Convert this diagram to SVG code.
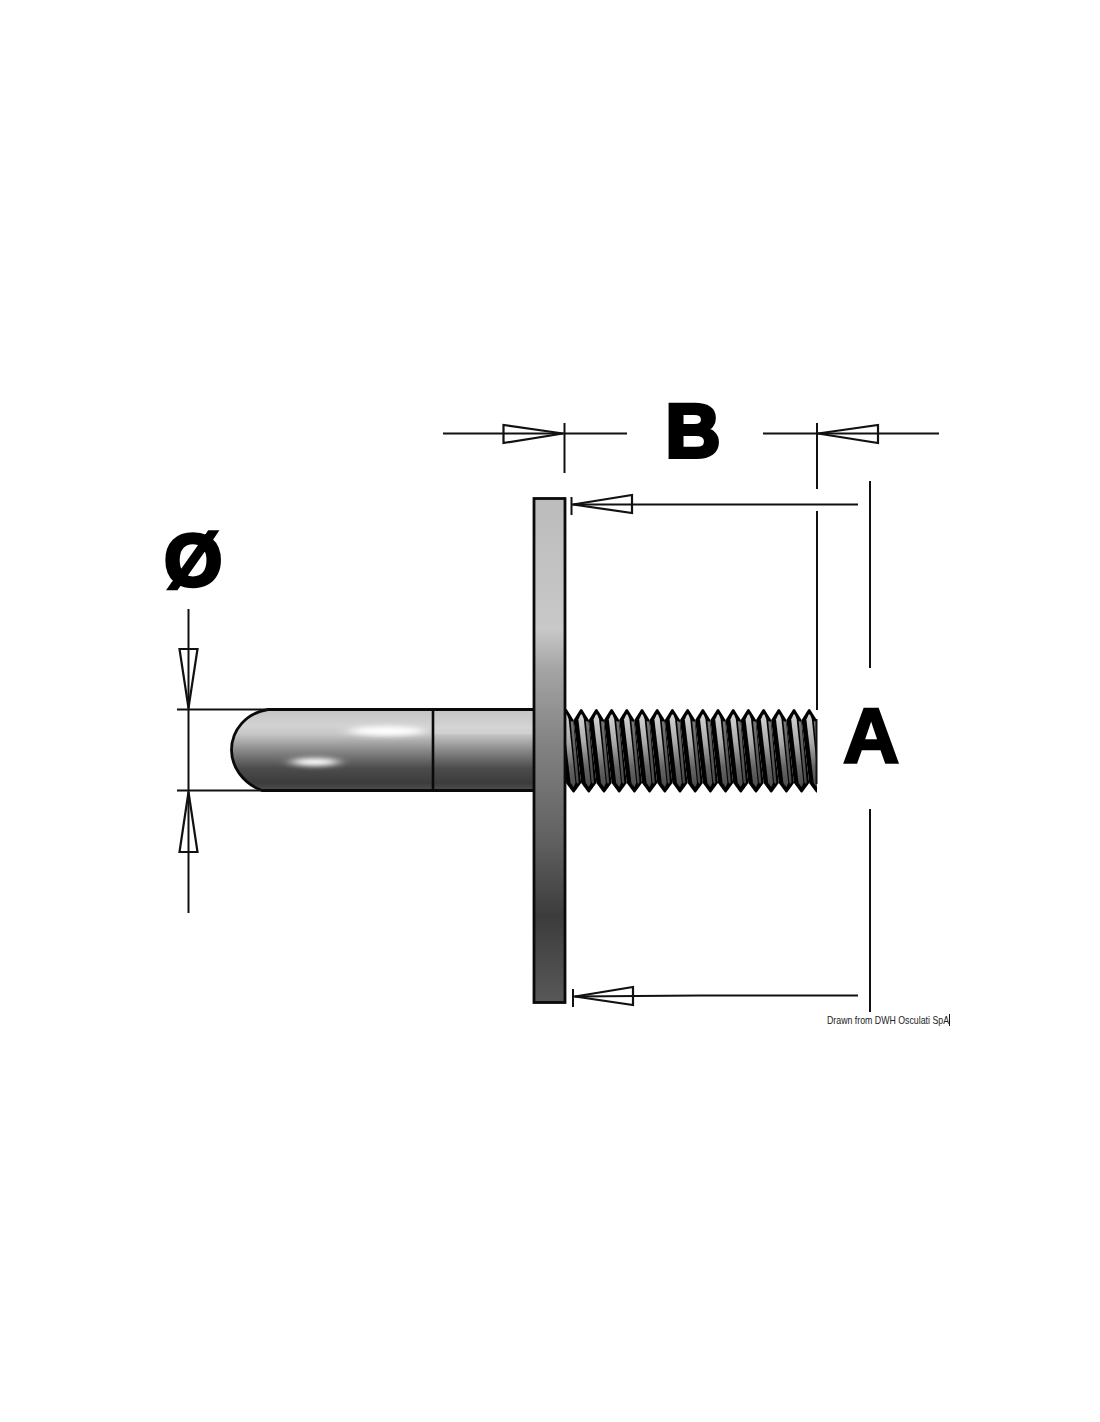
<svg xmlns="http://www.w3.org/2000/svg" xmlns:xlink="http://www.w3.org/1999/xlink" width="1100" height="1422" viewBox="0 0 1100 1422">
<style>
.ln{stroke:#111;stroke-width:2;fill:none}
.ar{stroke:#111;stroke-width:2.200;fill:none;stroke-linejoin:miter}
.big{font-family:"Liberation Sans",Arial,sans-serif;font-weight:700;fill:#000;stroke:#000;stroke-linejoin:miter}
</style>
<defs>
<linearGradient id="pinG" gradientUnits="userSpaceOnUse" x1="0" y1="709" x2="0" y2="791">
<stop offset="0" stop-color="#c4c4c4"/><stop offset=".2" stop-color="#d2d2d2"/><stop offset=".3" stop-color="#c8c8c8"/><stop offset=".5" stop-color="#8a8a8a"/><stop offset=".72" stop-color="#4c4c4c"/><stop offset=".9" stop-color="#3c3c3c"/><stop offset="1" stop-color="#505050"/>
</linearGradient>
<linearGradient id="plateG" gradientUnits="userSpaceOnUse" x1="0" y1="498" x2="0" y2="1002">
<stop offset="0" stop-color="#bcbcbc"/><stop offset=".26" stop-color="#c8c8c8"/><stop offset=".34" stop-color="#a4a4a4"/><stop offset=".5" stop-color="#808080"/><stop offset=".68" stop-color="#606060"/><stop offset=".83" stop-color="#3c3c3c"/><stop offset="1" stop-color="#585858"/>
</linearGradient>
<linearGradient id="thLight" gradientUnits="userSpaceOnUse" x1="0" y1="712" x2="0" y2="790">
<stop offset="0" stop-color="#d8d8d8"/><stop offset=".4" stop-color="#a8a8a8"/><stop offset=".7" stop-color="#666"/><stop offset="1" stop-color="#484848"/>
</linearGradient>
<linearGradient id="thMid" gradientUnits="userSpaceOnUse" x1="0" y1="712" x2="0" y2="790">
<stop offset="0" stop-color="#808080"/><stop offset=".5" stop-color="#5c5c5c"/><stop offset="1" stop-color="#444"/>
</linearGradient>
<filter id="soft" x="-50%" y="-150%" width="200%" height="400%"><feGaussianBlur stdDeviation="7 2.500"/></filter>
<filter id="bl" x="-5%" y="-10%" width="110%" height="120%"><feGaussianBlur stdDeviation=".55"/></filter>
<clipPath id="thClip"><rect x="566" y="700" width="251" height="100"/></clipPath>
<clipPath id="pinClip"><path d="M268 710H534V790H262C242 782 232 766 232 750C232 730 246 713 268 710Z"/></clipPath>
<g id="tooth">
<path d="M-7.600 720L-1 709.500Q0 708.500 1 709.500L7.600 720L15.200 783L8.600 792Q7.600 793 6.600 792L0 783Z" fill="#060606"/>
<path d="M-2.800 719.500L-0.500 714.500H0.800L2.600 719L9.400 783L7.600 787L4.600 783Z" fill="url(#thLight)"/>
<path d="M4.600 721L7.400 722L12.700 782L11.800 784L10.400 782Z" fill="url(#thMid)"/>
</g>
</defs>
<rect width="1100" height="1422" fill="#fff"/>

<g id="pin">
<path d="M268 710H534V790H262C242 782 232 766 232 750C232 730 246 713 268 710Z" fill="url(#pinG)"/>
<g clip-path="url(#pinClip)">
<ellipse cx="387" cy="731" rx="38" ry="5" fill="#fff" filter="url(#soft)"/>
<ellipse cx="315" cy="762" rx="24" ry="4" fill="#fff" filter="url(#soft)"/>
<rect x="434" y="726" width="100" height="8" fill="#dcdcdc" opacity=".4" filter="url(#bl)"/>
</g>
<path d="M534 709.500H268C246 713 231.500 730 231.500 750C231.500 766 242 783 262 790.500H534" fill="none" stroke="#0a0a0a" stroke-width="2.800"/>
<line x1="433" y1="711" x2="433" y2="790" stroke="#0a0a0a" stroke-width="2.600"/>
</g>

<g id="thread">
<g clip-path="url(#thClip)" filter="url(#bl)">
<use href="#tooth" x="566"/><use href="#tooth" x="581.200"/><use href="#tooth" x="596.400"/><use href="#tooth" x="611.600"/><use href="#tooth" x="626.800"/><use href="#tooth" x="642"/><use href="#tooth" x="657.200"/><use href="#tooth" x="672.400"/><use href="#tooth" x="687.600"/><use href="#tooth" x="702.800"/><use href="#tooth" x="718"/><use href="#tooth" x="733.200"/><use href="#tooth" x="748.400"/><use href="#tooth" x="763.600"/><use href="#tooth" x="778.800"/><use href="#tooth" x="794"/><use href="#tooth" x="809.200"/>
</g>
<line x1="816.500" y1="719" x2="816.500" y2="784" stroke="#111" stroke-width="2"/>
</g>

<g id="plate">
<rect x="534" y="498.500" width="31" height="504" fill="url(#plateG)" stroke="#0a0a0a" stroke-width="2.800"/>
</g>

<g id="connectors">
<path class="ln" d="M443 433.500H627M564.500 423V473M763 433.500H939M817 423V489M817 511V710"/>
<path class="ar" d="M503.500 425V443L563 433.500Z"/>
<path class="ar" d="M878 425V443L818 433.500Z"/>
<path class="ln" d="M571.500 497V515M572 504.500H858M573 989V1007M574 996.500L700 995.500H858M870 481V668M870 809V1012"/>
<path class="ar" d="M632 495V513L573 504.500Z"/>
<path class="ar" d="M633 987V1005L575 996.500Z"/>
<path class="ln" d="M188.500 609V913M177 709.500H268M177 790.500H262"/>
<path class="ar" d="M179.500 649H197.500L188.500 708Z"/>
<path class="ar" d="M179.500 852H197.500L188.500 792Z"/>
</g>

<g id="label-b"><text class="big" x="665.500" y="457" font-size="76" stroke-width="4">B</text></g>
<g id="label-a"><text class="big" x="843" y="763" font-size="78" stroke-width="2.500">A</text></g>
<g id="label-d"><text class="big" x="164" y="586" font-size="75" stroke-width="3.500">Ø</text></g>
<g id="credit">
<text x="827" y="1024" font-family="'Liberation Sans',Arial,sans-serif" font-size="11" fill="#222" textLength="122" lengthAdjust="spacingAndGlyphs">Drawn from DWH Osculati SpA</text>
<line x1="949.500" y1="1014" x2="949.500" y2="1026" stroke="#111" stroke-width="1"/>
</g>
</svg>
